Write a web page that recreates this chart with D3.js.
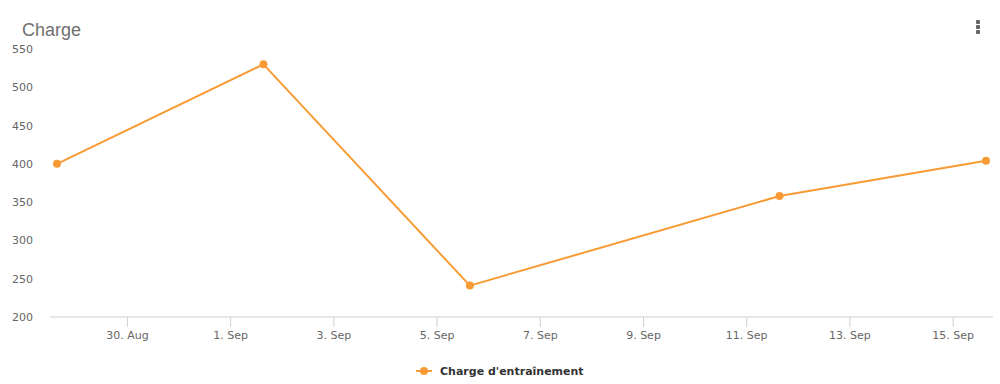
<!DOCTYPE html>
<html>
<head>
<meta charset="utf-8">
<title>Charge</title>
<script src="https://cdn.jsdelivr.net/npm/d3@7"></script>
<style>
  body { margin: 0; background: #fff; }
  svg { display: block; }
</style>
</head>
<body>
<svg id="chart" width="1000" height="384"></svg>
<script>
// data
var dates  = ["2019-08-28 15:30", "2019-09-01 15:30", "2019-09-05 15:30", "2019-09-11 15:30", "2019-09-15 15:30"];
var values = [400, 530, 241, 358, 404];
var yTicks = [200, 250, 300, 350, 400, 450, 500, 550];
var xTicks = ["2019-08-30", "2019-09-01", "2019-09-03", "2019-09-05", "2019-09-07",
              "2019-09-09", "2019-09-11", "2019-09-13", "2019-09-15"];
var seriesName = "Charge d'entra\u00eenement";

var parseT = d3.timeParse("%Y-%m-%d %H:%M");
var parseD = d3.timeParse("%Y-%m-%d");
var pts = dates.map(function (d, i) { return { t: parseT(d), v: values[i] }; });

var col = "#f89b35";
var svg = d3.select("#chart");

var x = d3.scaleTime()
  .domain(d3.extent(pts, function (d) { return d.t; }))
  .range([57, 986]);
var y = d3.scaleLinear().domain([200, 550]).range([317, 49]);

// title
svg.append("text").attr("x", 22).attr("y", 36)
  .attr("font-family", "Liberation Sans, Arial, sans-serif")
  .attr("font-size", 18).attr("fill", "#707070")
  .text("Charge");

// menu dots
[22, 27, 32].forEach(function (cy) {
  svg.append("rect").attr("x", 976).attr("y", cy - 2).attr("width", 4).attr("height", 4)
    .attr("rx", 1).attr("fill", "#666");
});

// y labels (no grid)
svg.append("g").selectAll("text").data(yTicks).join("text")
  .attr("x", 33).attr("y", function (d) { return y(d) + 4; })
  .attr("text-anchor", "end")
  .attr("font-family", "DejaVu Sans, Verdana, sans-serif")
  .attr("font-size", 11).attr("fill", "#666")
  .text(function (d) { return d; });

// x axis
var xAxis = d3.axisBottom(x)
  .tickValues(xTicks.map(parseD))
  .tickSize(10)
  .tickPadding(4)
  .tickFormat(d3.timeFormat("%-d. %b"));
var gx = svg.append("g").attr("transform", "translate(0,317)").call(xAxis);
gx.select(".domain").remove();
gx.insert("line", ":first-child").attr("x1", 50).attr("x2", 993).attr("y1", 0).attr("y2", 0)
  .attr("stroke", "#d0d0d0").attr("stroke-width", 1);
gx.selectAll(".tick line").attr("stroke", "#d0d0d0");
gx.selectAll(".tick text")
  .attr("font-family", "DejaVu Sans, Verdana, sans-serif")
  .attr("font-size", 11).attr("fill", "#666");

// line
var line = d3.line().x(function (d) { return x(d.t); }).y(function (d) { return y(d.v); });
svg.append("path").datum(pts).attr("d", line)
  .attr("fill", "none").attr("stroke", col).attr("stroke-width", 2)
  .attr("stroke-linejoin", "round");
svg.append("g").selectAll("circle").data(pts).join("circle")
  .attr("cx", function (d) { return x(d.t); })
  .attr("cy", function (d) { return y(d.v); })
  .attr("r", 4).attr("fill", col);

// legend
var lg = svg.append("g").attr("transform", "translate(416,371)");
lg.append("line").attr("x1", 0).attr("x2", 16).attr("y1", 0).attr("y2", 0)
  .attr("stroke", col).attr("stroke-width", 2);
lg.append("circle").attr("cx", 8).attr("cy", 0).attr("r", 4).attr("fill", col);
lg.append("text").attr("x", 24).attr("y", 4)
  .attr("font-family", "DejaVu Sans, Verdana, sans-serif")
  .attr("font-size", 11).attr("font-weight", "bold").attr("fill", "#333")
  .text(seriesName);
</script>
</body>
</html>
